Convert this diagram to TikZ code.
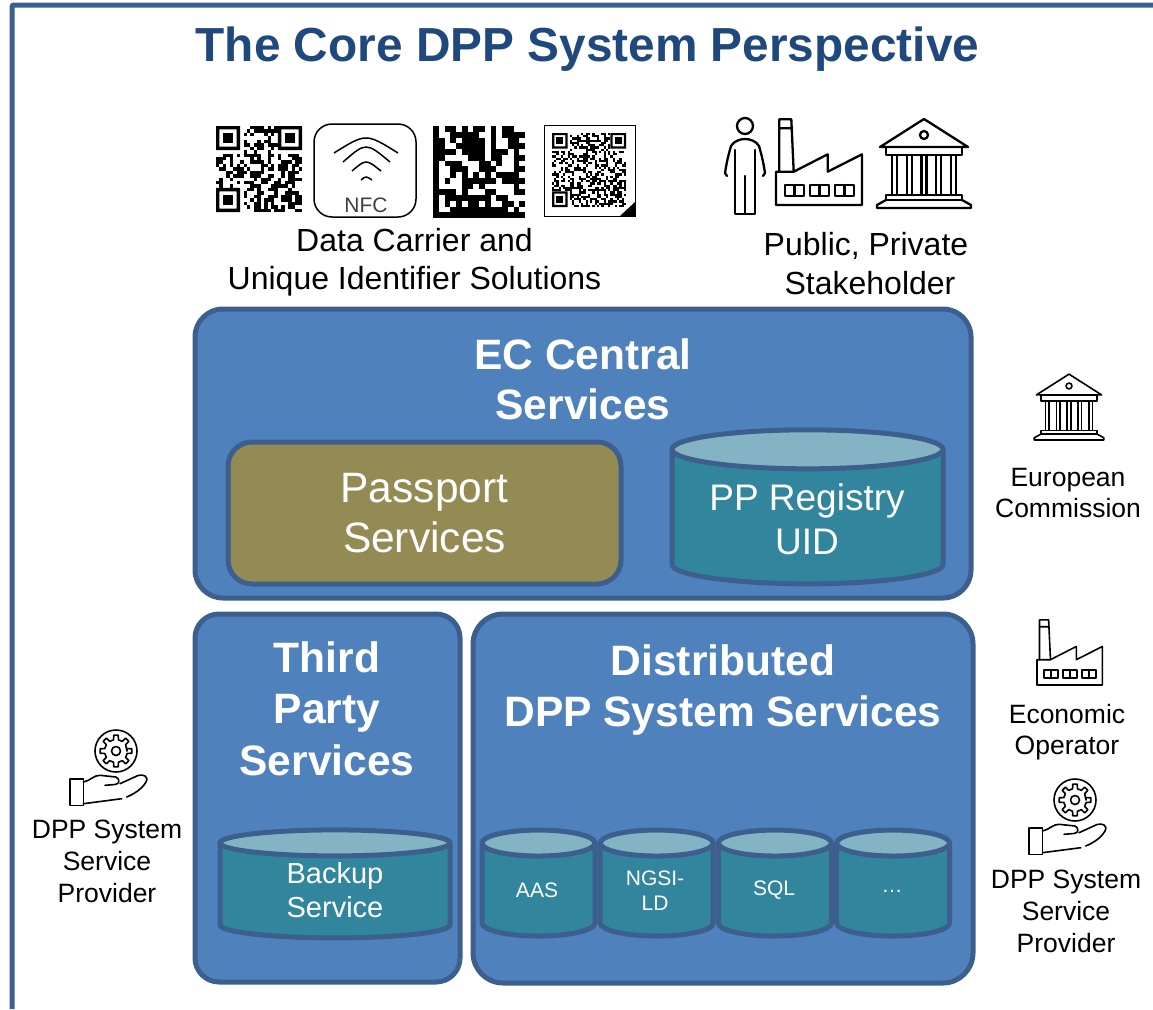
\documentclass[tikz,border=0pt]{standalone}
\usepackage{fontspec}
\setmainfont{Liberation Sans}
\usetikzlibrary{positioning,shapes.geometric}
\definecolor{framecol}{HTML}{3B6090}
\definecolor{titlecol}{HTML}{1F497D}
\definecolor{boxcol}{HTML}{4F81BD}
\definecolor{edgecol}{HTML}{3C5F8E}
\definecolor{passcol}{HTML}{948A54}
\definecolor{cylcol}{HTML}{31859C}
\definecolor{topcol}{HTML}{84B4C4}
\newcommand{\fsz}[2]{\fontsize{#1}{#2}\selectfont}
\newcommand{\qrcode}[5]{% x, y, size, modules, seed
    \begin{scope}[shift={(#1,#2)},x=#3pt/#4,y=-#3pt/#4]
        \pgfmathsetseed{#5}
        \foreach \i in {1,...,#4} {
            \foreach \j in {1,...,#4} {
                \pgfmathrandominteger{\bit}{0}{1}
                \ifnum\bit=1 \fill (\i-1,\j-1) rectangle (\i,\j); \fi
            }
        }
        \foreach \u/\v in {0/0,#4-7/0,0/#4-7} {
            \fill[white] (\u,\v) rectangle ++(8,8);
            \fill[even odd rule] (\u,\v) rectangle ++(7,7) (\u+1,\v+1) rectangle ++(5,5);
            \fill (\u+2,\v+2) rectangle ++(3,3);
        }
    \end{scope}
}
\tikzset{
    panel/.style={draw=edgecol,fill=boxcol,line width=5pt,rounded corners=#1,inner sep=0pt},
    panel/.default=26pt,
    tank/.style n args={3}{cylinder,shape border rotate=90,draw=edgecol,line width=5pt,inner sep=1pt,
        minimum width=#1,minimum height=#2,shape aspect=#3,cylinder uses custom fill,
        cylinder body fill=cylcol,cylinder end fill=topcol},
    tanktext/.style={text=white,align=center,inner sep=0pt,font=#1},
    heading/.style={text=white,align=center,inner sep=0pt,font=\bfseries\fsz{42.5}{51.5}},
    caption/.style={align=center,inner sep=0pt,font=\fsz{26.5}{32}},
    bigcaption/.style={align=center,inner sep=0pt,font=\fsz{32}{38.5}},
    icon/.style={line width=#1,line cap=round,line join=round},
    icon/.default=2.3pt,
    factory/.pic={
        \draw (3.3,-33.3) -- (3.3,-85.7) -- (15.3,-85.7) -- (17.7,-33.3)
              (3.6,-76.7) -- (15,-76.7);
        \draw (0,-33.3) -- (17.7,-33.3) -- (51.7,-50.7) -- (51.7,-33.3) -- (86,-50.7) -- (86,0) -- (0,0) -- cycle;
        \foreach \wx in {9.3,34.3,59.3} {
            \draw (\wx,-9.3) rectangle ++(18.4,-10.7) (\wx+9.2,-9.3) -- ++(0,-10.7);
        }
    },
    temple/.pic={
        \draw (-44,-61) -- (0,-89) -- (44,-61) -- cycle;
        \draw (0,-73) circle (4);
        \draw (-38,-61) rectangle (38,-53);
        \foreach \cx in {-29.5,-14.5,0,14.5,29.5} {
            \draw (\cx-2.5,-53) -- (\cx-2.5,-13) (\cx+2.5,-53) -- (\cx+2.5,-13);
        }
        \draw (-38,-13) rectangle (38,-8);
        \draw (-38,-8) -- (-47,-3) -- (-47,0) -- (47,0) -- (47,-3) -- (38,-8);
    },
    person/.pic={
        \draw (0,-89) circle (8);
        \draw (-10,-38) -- (-10,-65) (10,-38) -- (10,-65);
        \draw (-18,-39) -- (-20,-42) .. controls (-18,-55) and (-16,-62) .. (-14,-69)
              .. controls (-11,-74) and (-5,-76) .. (0,-76)
              .. controls (5,-76) and (11,-74) .. (14,-69)
              .. controls (16,-62) and (18,-55) .. (20,-42) -- (18,-39);
        \draw (-10,-39) -- (-10,-1) -- (10,-1) -- (10,-39) (0,-39) -- (0,-1);
    },
    gearhand/.pic={
        \draw (0,0) circle (21);
        \draw (0:11) \foreach \ga in {0,45,...,315} { -- (\ga-12:11.5) -- (\ga-8:16) -- (\ga+8:16) -- (\ga+12:11.5) } -- cycle;
        \draw (0,0) circle (4.5);
        \draw (-32.7,27.7) -- (-46,27.7) -- (-46,54.3) -- (-32.7,54.3) -- (-32.7,27.7);
        \draw (-32.7,31) .. controls (-26,30) and (-22,24) .. (-16,24.3)
              -- (0,26) .. controls (4,28) and (4,33) .. (-1,33.5) -- (-11,34.3);
        \draw (4,32.7) -- (22,24.5) .. controls (27,23) and (33,25) .. (30,31)
              .. controls (26,38) and (18,43) .. (10.7,46);
        \draw (5.7,47.7) -- (-32.7,52.7);
    }
}
\begin{document}
\begin{tikzpicture}[x=1pt,y=-1pt]
    \useasboundingbox (0,0) rectangle (1153,1009);
    \coordinate (frame_bl) at (12,1009);
    \coordinate (frame_tl) at (12,5);
    \coordinate (frame_tr) at (1153,5);
    \draw[framecol,line width=5pt,rounded corners=2pt] (frame_bl) -- (frame_tl) -- (frame_tr);
    \node[titlecol,inner sep=0pt,font=\bfseries\fsz{47.8}{56}] (title) at (587.5,49) {The Core DPP System Perspective};

    % carriers
    \qrcode{216}{126}{86}{25}{11}
    \draw[line width=1.5pt,rounded corners=18pt] (314,124) rectangle (416,217);
    \draw[line width=1.5pt] (334,153) .. controls (366,133) .. (398,153);
    \draw[line width=1.5pt] (343,162) .. controls (366,142) .. (390,162);
    \draw[line width=1.5pt] (352,171) .. controls (366,159) .. (381,171);
    \draw[line width=1.5pt] (361,180) .. controls (366,176) .. (372,180);
    \node[inner sep=0pt,text=black!75,font=\fsz{21}{23}] (nfc) at (366,205) {NFC};
    \begin{scope}[shift={(433,126)},x=5.75pt,y=-5.75pt]
        \foreach \row/\cols in {
            0/{0,2,3,5,7,8,10,12,13},
            1/{0,3,4,5,6,7,10,12,13,14,15},
            2/{0,1,3,5,6,7,8,10,13,14},
            3/{0,1,4,5,6,7,8,10,13,14,15},
            4/{0,1,2,3,5,6,7,8,10,11,12,14},
            5/{0,1,6,7,8,10,11,14,15},
            6/{0,2,3,4,8,9,11,14},
            7/{0,3,4,5,8,9,10,14,15},
            8/{0,3,5,7,9,11,12,13,14},
            9/{0,2,5,6,7,8,9,10,12,13,14,15},
            10/{0,5,6,8,14},
            11/{0,1,2,3,5,9,10,14,15},
            12/{0,2,3,4,5,6,7,8,9,11,12},
            13/{0,2,4,6,7,9,12,13,15},
            14/{0,3,4,5,6,7,8,9,10,11,12,14},
            15/{0,1,2,3,4,5,6,7,8,9,10,11,12,13,14,15}} {
            \foreach \col in \cols {
                \fill (\col,\row) rectangle ++(1.02,1.02);
            }
        }
    \end{scope}
    \draw[line width=1pt] (544,125) rectangle (635,216);
    \qrcode{552}{133}{74}{33}{5}
    \fill (620,216) -- (635,216) -- (635,202) -- cycle;
    \node[bigcaption] (carrier_txt) at (414.5,262) {Data Carrier and\\Unique Identifier Solutions};

    % stakeholders
    \pic[icon] at (745,215) {person};
    \pic[icon] at (776,205) {factory};
    \pic[icon] at (924,208) {temple};
    \node[bigcaption] (public_txt) at (868,263.5) {Public, Private\hspace*{4pt}\\\hspace*{4pt}Stakeholder};

    % central services
    \node[panel=28pt,minimum width=776pt,minimum height=289pt] (ec) at (583,453.5) {};
    \node[heading,font=\bfseries\fsz{42.5}{50}] (ec_txt) at (583,379.5) {EC Central\\Services};
    \node[panel=24pt,fill=passcol,minimum width=393pt,minimum height=142pt,text=white,align=center,font=\fsz{42.5}{50}] (passport) at (424.5,513) {Passport\\Services};
    \node[tank={271pt}{154pt}{19.5}] (registry) at (807.5,519) {};
    \node[tanktext=\fsz{37}{44}] (registry_txt) at (807,519) {PP Registry\\UID};

    % third party
    \node[panel=24pt,minimum width=265pt,minimum height=368pt] (third) at (327.5,798) {};
    \node[heading] (third_txt) at (327,708.5) {Third\\Party\\Services};
    \node[tank={230pt}{108pt}{13}] (backup) at (335,892.5) {};
    \node[tanktext=\fsz{29}{34}] (backup_txt) at (335,890) {Backup\\Service};

    % distributed
    \node[panel=30pt,minimum width=500pt,minimum height=369pt] (dist) at (723,798.5) {};
    \node[heading] (dist_txt) at (723,690) {Distributed\\DPP System Services};
    \begin{scope}[on grid,node distance=118.2pt]
        \node[tank={113pt}{106pt}{13}] (aas) at (538.5,892) {};
        \node[tank={113pt}{106pt}{13}] (ngsi) [right=of aas] {};
        \node[tank={113pt}{106pt}{13}] (sql) [right=of ngsi] {};
        \node[tank={113pt}{106pt}{13}] (more) [right=of sql] {};
    \end{scope}
    \node[tanktext=\fsz{21}{25}] (aas_txt) at (537,890) {AAS};
    \node[tanktext=\fsz{21}{25}] (ngsi_txt) at (655,890.5) {NGSI-\\LD};
    \node[tanktext=\fsz{21}{25}] (sql_txt) at (774,890) {SQL};
    \node[tanktext=\fsz{21}{25}] (more_txt) at (892,891) {…};

    % roles
    \pic[icon=1.6pt,scale=.74] at (1069,440) {temple};
    \node[caption,font=\fsz{26.5}{31}] (eu_txt) at (1068,493.5) {European\\Commission};
    \pic[icon=1.6pt,scale=.76] at (1037,685) {factory};
    \node[caption,font=\fsz{26.5}{31}] (eo_txt) at (1067,732.5) {Economic\\Operator};
    \pic[icon=1.6pt] at (116,751) {gearhand};
    \node[caption] (prov_l) at (107,861) {DPP System\\Service\\Provider};
    \pic[icon=1.6pt] at (1075,800) {gearhand};
    \node[caption] (prov_r) at (1066,911) {DPP System\\Service\\Provider};
\end{tikzpicture}
\end{document}
